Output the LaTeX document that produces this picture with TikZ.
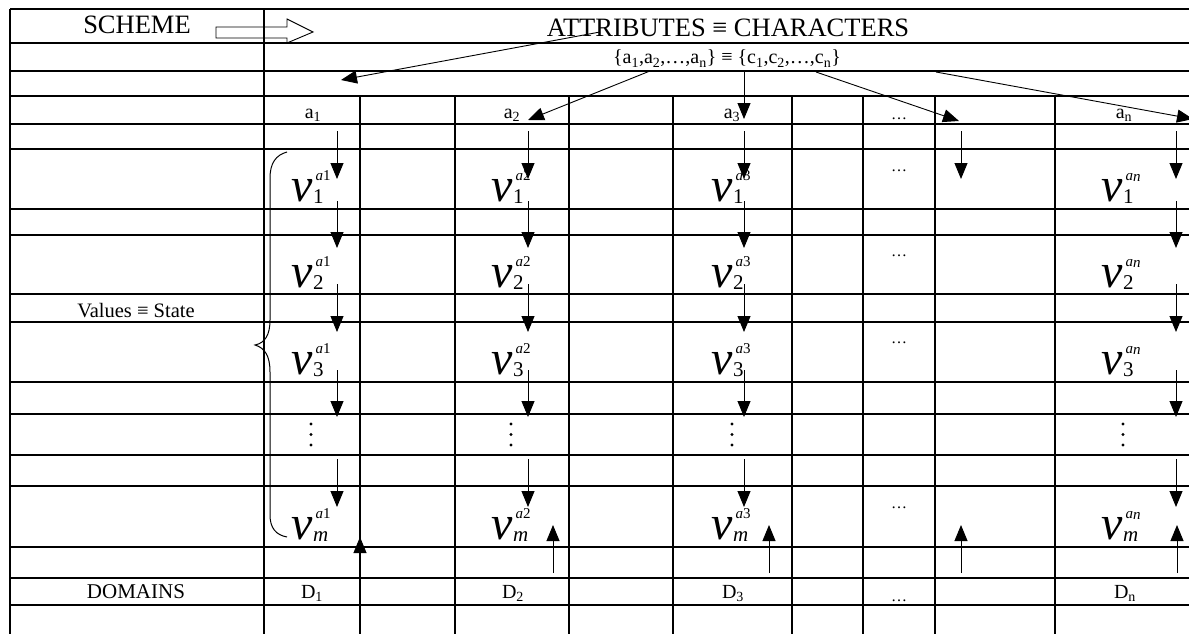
\documentclass[tikz,border=0pt]{standalone}
\usepackage{fontspec}
\setmainfont{Liberation Serif}
\usetikzlibrary{arrows.meta}
\newcommand{\fs}[1]{\fontsize{#1}{#1}\selectfont}
% v label: #1 subscript, #2 what follows the superscript a
\newcommand{\vlab}[2]{{\fs{48}\itshape v}\rlap{\hspace{3pt}\raisebox{21pt}{\fs{15}\itshape a#2}}\hspace{0.5pt}\raisebox{-2pt}{\fs{21}#1}}
\tikzset{
  gridline/.style={line width=1.1pt},
  arr/.style={line width=0.9pt,-{Triangle[length=16pt,width=13pt]}},
  lbl/.style={inner sep=0pt,anchor=base,font=\fs{20}},
  vlbl/.style={inner sep=0pt,anchor=base west},
  dotsl/.style={inner sep=0pt,anchor=base,font=\fs{16}},
}
\begin{document}
\begin{tikzpicture}[x=1pt,y=-1pt]
\useasboundingbox (0,0) rectangle (1189,634);
% ---- table grid
\foreach \y in {9,43,71,96,124,149,209,235,294,322,382,414,455,486,547,578,605}
  \draw[gridline] (10,\y) -- (1189,\y);
\draw[gridline] (10,9) -- (10,634);
\draw[gridline] (264,9) -- (264,634);
\foreach \x in {360,455,569,673,792,863,935,1055}
  \draw[gridline] (\x,96) -- (\x,634);
% ---- header texts
\node[inner sep=0pt,anchor=base,font=\fs{26.5}] (scheme) at (137,34) {SCHEME};
\node[inner sep=0pt,anchor=base,font=\fs{26.5}] (attr) at (728,36.5) {ATTRIBUTES ≡ CHARACTERS};
\node[inner sep=0pt,anchor=base,font=\fs{20}] (set) at (727,64) {\{a\textsubscript{1},a\textsubscript{2},…,a\textsubscript{n}\} ≡ \{c\textsubscript{1},c\textsubscript{2},…,c\textsubscript{n}\}};
% hollow block arrow
\draw[line width=0.9pt] (216,27) -- (287,27) -- (287,19) -- (313,32) -- (287,43) -- (287,38) -- (216,38) -- cycle;
% ---- attribute labels
\node[lbl] (a1) at (313,118) {a\textsubscript{1}};
\node[lbl] (a2) at (512,118) {a\textsubscript{2}};
\node[lbl] (a3) at (732,118) {a\textsubscript{3}};
\node[dotsl] (adots) at (899,119) {…};
\node[lbl] (an) at (1124,118) {a\textsubscript{n}};
% ---- arrows from the set
\coordinate (s1) at (600,32);  \coordinate (e1) at (341,80);
\coordinate (s2) at (650,71);  \coordinate (e2) at (528,120);
\coordinate (s3) at (744,72);  \coordinate (e3) at (744,119);
\coordinate (s4) at (816,72);  \coordinate (e4) at (959,121);
\coordinate (s5) at (936,72);  \coordinate (e5) at (1193,119);
\foreach \i in {1,...,5} \draw[arr] (s\i) -- (e\i);
% ---- down arrows
\foreach \c/\x in {A/337,B/528,C/744,E/1176}{
  \foreach \k/\ya/\yb in {1/131/179,2/201/248,3/284/332,4/370/417,5/459/507}{
    \coordinate (d\c\k s) at (\x,\ya);
    \coordinate (d\c\k e) at (\x,\yb);
    \draw[arr] (d\c\k s) -- (d\c\k e);
  }
}
\coordinate (dD1s) at (961,131); \coordinate (dD1e) at (961,179);
\draw[arr] (dD1s) -- (dD1e);
% ---- up arrows
\coordinate (uAs) at (360,578); \coordinate (uAe) at (360,537);
\draw[arr] (uAs) -- (uAe);
\foreach \c/\x in {B/553,C/769,D/961,E/1177}{
  \coordinate (u\c s) at (\x,573);
  \coordinate (u\c e) at (\x,525);
  \draw[arr] (u\c s) -- (u\c e);
}
% ---- value labels
\foreach \c/\L/\s in {A/291/{\upshape 1},B/491/{\upshape 2},C/711/{\upshape 3},E/1101/{\raisebox{-1.5pt}{n}}}{
  \node[vlbl] (v\c1) at (\L,201) {\vlab{1}{\s}};
  \node[vlbl] (v\c2) at (\L,287) {\vlab{2}{\s}};
  \node[vlbl] (v\c3) at (\L,374) {\vlab{3}{\s}};
  \node[vlbl] (v\c m) at (\L,539) {\vlab{\itshape m}{\s}};
}
% vertical dots
\foreach \c/\x in {A/311,B/511,C/732,E/1123}{
  \foreach \k/\y in {1/424,2/434.5,3/445}
    \fill (\x,\y) circle (1.6pt);
}
% horizontal dots in the dots column
\foreach \k/\y in {1/171.5,2/256.5,3/343.5,4/508.5}
  \node[dotsl] (hd\k) at (899,\y) {…};
% ---- brace
\draw[line width=1pt] (287,152) .. controls (276,155) and (270,163) .. (270,178) -- (270,320)
  .. controls (270,335) and (265,343) .. (255,345)
  .. controls (265,348) and (270,356) .. (270,372) -- (270,515)
  .. controls (270,528) and (276,535) .. (287,537);
% ---- left column labels
\node[inner sep=0pt,anchor=base,font=\fs{20.5}] (values) at (136,317) {Values ≡ State};
\node[inner sep=0pt,anchor=base,font=\fs{21}] (domains) at (136,598) {DOMAINS};
% ---- domain labels
\node[lbl] (D1) at (312,598) {D\textsubscript{1}};
\node[lbl] (D2) at (513,598) {D\textsubscript{2}};
\node[lbl] (D3) at (733,598) {D\textsubscript{3}};
\node[dotsl] (Ddots) at (899,601) {…};
\node[lbl] (Dn) at (1125,598) {D\textsubscript{n}};
\end{tikzpicture}
\end{document}
